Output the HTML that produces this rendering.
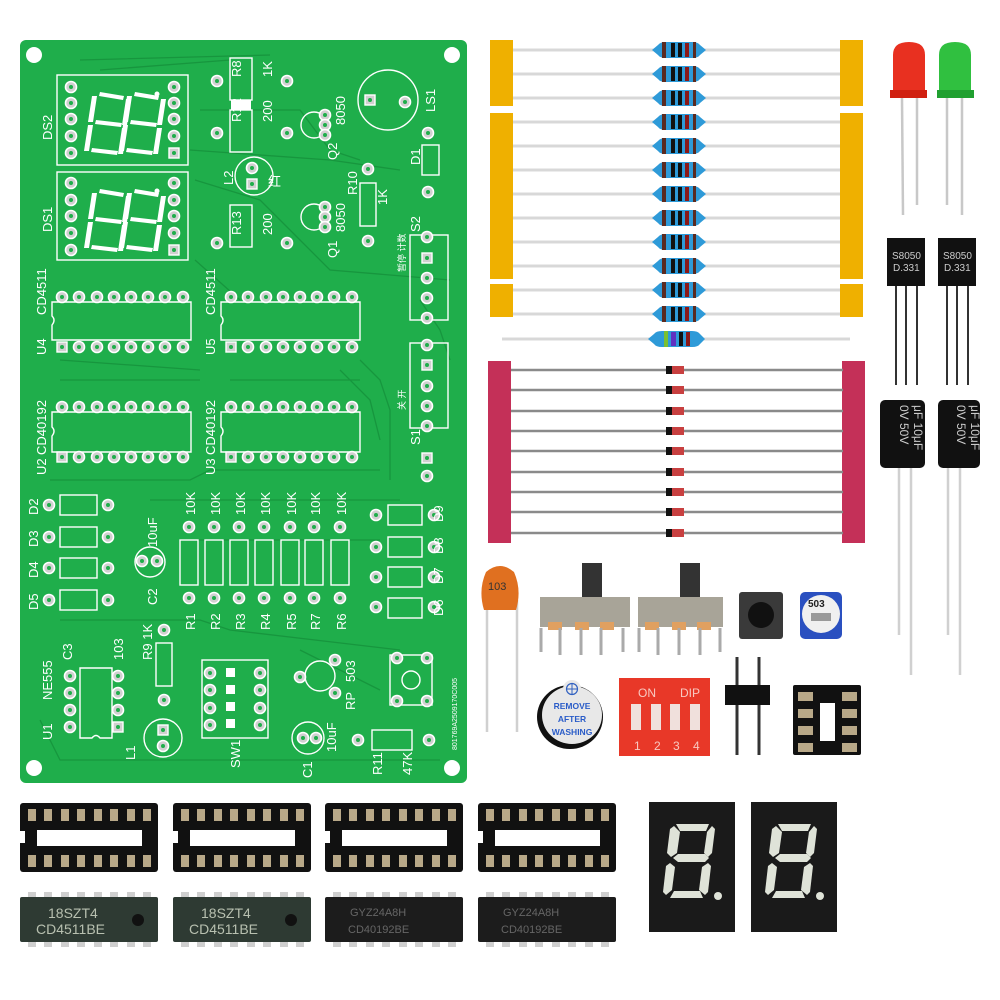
<!DOCTYPE html>
<html><head><meta charset="utf-8"><style>
html,body{margin:0;padding:0;background:#fff;}
svg{display:block}
text{font-family:"Liberation Sans","Noto Sans CJK SC",sans-serif;}
</style></head><body>
<svg width="1000" height="1000" viewBox="0 0 1000 1000" xmlns="http://www.w3.org/2000/svg">
<defs>
<g id="p"><circle r="5.5" fill="#d0d0d0" stroke="#ffffff" stroke-width="1.6"/><circle r="2" fill="#1fae4b"/></g>
<g id="sp"><rect x="-5" y="-5" width="10" height="10" fill="#d0d0d0" stroke="#fff" stroke-width="1.4"/><circle r="2" fill="#1fae4b"/></g>
<g id="res"><line x1="-140" y1="0" x2="188" y2="0" stroke="#d8d8d8" stroke-width="3"/>
<path d="M0,0 L6,-5 Q8,-8 14,-8 L40,-8 Q46,-8 48,-5 L54,0 L48,5 Q46,8 40,8 L14,8 Q8,8 6,5 Z" fill="#2e9ad8"/>
<rect x="10" y="-8" width="4" height="16" fill="#5a2a20"/><rect x="19" y="-7" width="4" height="14" fill="#111"/><rect x="26" y="-7" width="4" height="14" fill="#111"/><rect x="33" y="-7" width="4" height="14" fill="#8a1818"/><rect x="41" y="-8" width="3" height="16" fill="#5a2a20"/></g>
<g id="dio"><line x1="-164" y1="0" x2="168" y2="0" stroke="#8a8a8a" stroke-width="2.5"/><rect x="-9" y="-4" width="18" height="8" fill="#c84040"/><rect x="-9" y="-4" width="6" height="8" fill="#111"/></g>
<g id="sk"><rect x="0" y="0" width="138" height="69" rx="3" fill="#111"/><rect x="17" y="27" width="105" height="16" fill="#fff"/>
<g fill="#b8a888"><rect x="8" y="6" width="8" height="12"/><rect x="24" y="6" width="8" height="12"/><rect x="41" y="6" width="8" height="12"/><rect x="57" y="6" width="8" height="12"/><rect x="74" y="6" width="8" height="12"/><rect x="90" y="6" width="8" height="12"/><rect x="107" y="6" width="8" height="12"/><rect x="123" y="6" width="8" height="12"/>
<rect x="8" y="52" width="8" height="12"/><rect x="24" y="52" width="8" height="12"/><rect x="41" y="52" width="8" height="12"/><rect x="57" y="52" width="8" height="12"/><rect x="74" y="52" width="8" height="12"/><rect x="90" y="52" width="8" height="12"/><rect x="107" y="52" width="8" height="12"/><rect x="123" y="52" width="8" height="12"/></g>
<rect x="0" y="28" width="5" height="12" fill="#fff"/></g>
<g id="legs" fill="#cfcfcf"><rect x="8" y="-5" width="8" height="5"/><rect x="24" y="-5" width="8" height="5"/><rect x="41" y="-5" width="8" height="5"/><rect x="57" y="-5" width="8" height="5"/><rect x="74" y="-5" width="8" height="5"/><rect x="90" y="-5" width="8" height="5"/><rect x="107" y="-5" width="8" height="5"/><rect x="123" y="-5" width="8" height="5"/>
<rect x="8" y="45" width="8" height="5"/><rect x="24" y="45" width="8" height="5"/><rect x="41" y="45" width="8" height="5"/><rect x="57" y="45" width="8" height="5"/><rect x="74" y="45" width="8" height="5"/><rect x="90" y="45" width="8" height="5"/><rect x="107" y="45" width="8" height="5"/><rect x="123" y="45" width="8" height="5"/></g>
<g id="seg" fill="#dfe3d8"><path d="M14,14 L47,14 L44,21 L18,21 Z"/><path d="M12,16 L18,22 L15,43 L9,47 L5,43 L8,19 Z"/><path d="M50,16 L53,19 L50,43 L46,47 L42,43 L45,22 Z"/><path d="M11,48 L16,44 L43,44 L47,48 L43,52 L16,52 Z"/><path d="M8,53 L13,57 L10,80 L4,85 L1,82 L4,56 Z"/><path d="M46,53 L49,56 L46,82 L43,85 L37,80 L40,57 Z"/><path d="M12,81 L38,81 L41,88 L8,88 Z"/><circle cx="56" cy="86" r="4"/></g>
</defs>

<!-- PCB -->
<rect x="20" y="40" width="447" height="743" rx="6" fill="#1fae4b"/>
<g fill="#fff"><circle cx="34" cy="55" r="8"/><circle cx="452" cy="55" r="8"/><circle cx="34" cy="768" r="8"/><circle cx="452" cy="768" r="8"/></g>
<g fill="none" stroke="#17963e" stroke-width="1.3">
<path d="M80,60 L270,55 M100,70 L230,60 M200,110 L300,110 L330,150 L360,160 M190,150 L330,160 L400,170 M195,180 L260,200 L300,240 L330,270 L450,280 M195,260 L240,300 M360,360 L380,380 L390,410 L390,480 M340,370 L370,400 L380,440 M50,480 L190,480 L210,470 L380,470 M60,620 L200,620 L230,630 L400,650 M40,720 L60,760 L440,760 M180,540 L380,540 M150,500 L400,500 M300,650 L380,690 M420,300 L440,330 L450,360 M60,380 L200,380 M230,380 L360,380 M60,360 L200,370"/>
</g>
<g fill="none" stroke="#fff" stroke-width="1.4">
<rect x="57" y="75" width="131" height="90"/><rect x="57" y="172" width="131" height="88"/>
<rect x="230" y="58" width="22" height="42"/><rect x="230" y="110" width="22" height="42"/><rect x="230" y="205" width="22" height="42"/>
<rect x="360" y="183" width="16" height="43"/><rect x="422" y="145" width="17" height="30"/>
<circle cx="388" cy="100" r="30"/><circle cx="254" cy="176" r="19"/><circle cx="314" cy="125" r="13"/><circle cx="314" cy="217" r="13"/>
<rect x="410" y="235" width="38" height="85"/><rect x="410" y="343" width="38" height="85"/>
<path d="M52,302 L52,316 Q56,320 52,325 L52,340 L191,340 L191,302 Z"/>
<path d="M221,302 L221,316 Q225,320 221,325 L221,340 L360,340 L360,302 Z"/>
<path d="M52,412 L52,427 Q56,431 52,436 L52,452 L191,452 L191,412 Z"/>
<path d="M221,412 L221,427 Q225,431 221,436 L221,452 L360,452 L360,412 Z"/>
<rect x="60" y="495" width="37" height="20"/><rect x="60" y="527" width="37" height="20"/><rect x="60" y="558" width="37" height="20"/><rect x="60" y="590" width="37" height="20"/>
<rect x="180" y="540" width="18" height="45"/><rect x="205" y="540" width="18" height="45"/><rect x="230" y="540" width="18" height="45"/><rect x="255" y="540" width="18" height="45"/><rect x="281" y="540" width="18" height="45"/><rect x="305" y="540" width="18" height="45"/><rect x="331" y="540" width="18" height="45"/>
<rect x="388" y="505" width="34" height="20"/><rect x="388" y="537" width="34" height="20"/><rect x="388" y="567" width="34" height="20"/><rect x="388" y="598" width="34" height="20"/>
<circle cx="150" cy="562" r="15"/><path d="M80,668 L80,738 L92,738 Q96,733 100,738 L112,738 L112,668 Z"/>
<rect x="156" y="643" width="16" height="43"/><rect x="202" y="660" width="66" height="78"/>
<circle cx="320" cy="676" r="15"/><rect x="390" y="655" width="42" height="50"/><circle cx="411" cy="680" r="9"/>
<circle cx="163" cy="738" r="19"/><circle cx="308" cy="738" r="16"/><rect x="372" y="730" width="40" height="20"/>
</g>
<!-- seven seg footprints -->
<g fill="#fff">
<g id="fd"><path d="M92,96 L97,96 L93,122 L88,122 Z"/><path d="M88,125 L93,125 L89,151 L84,151 Z"/><path d="M100,92 L124,96 L123,100 L99,96 Z"/><path d="M96,120 L122,123 L121,127 L95,124 Z"/><path d="M92,148 L118,151 L117,155 L91,152 Z"/><path d="M126,99 L131,99 L127,125 L122,125 Z"/><path d="M122,128 L127,128 L123,154 L118,154 Z"/>
<path d="M112,99 L117,99 L113,125 L108,125 Z" opacity="0"/></g>
<use href="#fd" x="35" y="0"/>
<use href="#fd" x="0" y="97"/><use href="#fd" x="35" y="97"/>
<circle cx="157" cy="94" r="2.5"/><circle cx="157" cy="191" r="2.5"/>
<rect x="231" y="100" width="20" height="10"/></g>
<!-- pads -->
<g>
<use href="#p" x="71" y="87"/><use href="#p" x="71" y="103"/><use href="#p" x="71" y="119"/><use href="#p" x="71" y="136"/><use href="#p" x="71" y="153"/>
<use href="#p" x="174" y="87"/><use href="#p" x="174" y="103"/><use href="#p" x="174" y="119"/><use href="#p" x="174" y="136"/><use href="#sp" x="174" y="153"/>
<use href="#p" x="71" y="183"/><use href="#p" x="71" y="200"/><use href="#p" x="71" y="216"/><use href="#p" x="71" y="233"/><use href="#p" x="71" y="250"/>
<use href="#p" x="174" y="183"/><use href="#p" x="174" y="200"/><use href="#p" x="174" y="216"/><use href="#p" x="174" y="233"/><use href="#sp" x="174" y="250"/>
<use href="#p" x="217" y="81"/><use href="#p" x="287" y="81"/><use href="#p" x="217" y="133"/><use href="#p" x="287" y="133"/><use href="#p" x="217" y="243"/><use href="#p" x="287" y="243"/>
<use href="#p" x="368" y="169"/><use href="#p" x="368" y="241"/><use href="#p" x="428" y="133"/><use href="#p" x="428" y="192"/>
<use href="#sp" x="370" y="100"/><use href="#p" x="405" y="102"/><use href="#p" x="252" y="168"/><use href="#sp" x="252" y="184"/>
<use href="#p" x="325" y="115"/><use href="#p" x="325" y="125"/><use href="#p" x="325" y="135"/><use href="#p" x="325" y="207"/><use href="#p" x="325" y="217"/><use href="#p" x="325" y="227"/>
<use href="#p" x="427" y="237"/><use href="#sp" x="427" y="258"/><use href="#p" x="427" y="278"/><use href="#p" x="427" y="298"/><use href="#p" x="427" y="318"/>
<use href="#p" x="427" y="345"/><use href="#sp" x="427" y="365"/><use href="#p" x="427" y="386"/><use href="#p" x="427" y="406"/><use href="#p" x="427" y="426"/>
<use href="#sp" x="427" y="458"/><use href="#p" x="427" y="476"/>
</g>
<g id="row1"><use href="#p" x="62" y="297"/><use href="#p" x="79" y="297"/><use href="#p" x="97" y="297"/><use href="#p" x="114" y="297"/><use href="#p" x="131" y="297"/><use href="#p" x="148" y="297"/><use href="#p" x="165" y="297"/><use href="#p" x="183" y="297"/>
<use href="#sp" x="62" y="347"/><use href="#p" x="79" y="347"/><use href="#p" x="97" y="347"/><use href="#p" x="114" y="347"/><use href="#p" x="131" y="347"/><use href="#p" x="148" y="347"/><use href="#p" x="165" y="347"/><use href="#p" x="183" y="347"/></g>
<use href="#row1" x="169" y="0"/><use href="#row1" x="0" y="110"/><use href="#row1" x="169" y="110"/>
<g>
<use href="#p" x="49" y="505"/><use href="#p" x="108" y="505"/><use href="#p" x="49" y="537"/><use href="#p" x="108" y="537"/><use href="#p" x="49" y="568"/><use href="#p" x="108" y="568"/><use href="#p" x="49" y="600"/><use href="#p" x="108" y="600"/>
<use href="#p" x="189" y="527"/><use href="#p" x="214" y="527"/><use href="#p" x="239" y="527"/><use href="#p" x="264" y="527"/><use href="#p" x="290" y="527"/><use href="#p" x="314" y="527"/><use href="#p" x="340" y="527"/>
<use href="#p" x="189" y="598"/><use href="#p" x="214" y="598"/><use href="#p" x="239" y="598"/><use href="#p" x="264" y="598"/><use href="#p" x="290" y="598"/><use href="#p" x="314" y="598"/><use href="#p" x="340" y="598"/>
<use href="#p" x="376" y="515"/><use href="#p" x="434" y="515"/><use href="#p" x="376" y="547"/><use href="#p" x="434" y="547"/><use href="#p" x="376" y="577"/><use href="#p" x="434" y="577"/><use href="#p" x="376" y="607"/><use href="#p" x="434" y="607"/>
<use href="#p" x="142" y="561"/><use href="#p" x="157" y="561"/>
<use href="#p" x="70" y="676"/><use href="#p" x="70" y="693"/><use href="#p" x="70" y="710"/><use href="#p" x="70" y="727"/><use href="#p" x="118" y="676"/><use href="#p" x="118" y="693"/><use href="#p" x="118" y="710"/><use href="#sp" x="118" y="727"/>
<use href="#p" x="164" y="630"/><use href="#p" x="164" y="700"/>
<use href="#p" x="210" y="673"/><use href="#p" x="210" y="690"/><use href="#p" x="210" y="708"/><use href="#p" x="210" y="725"/><use href="#p" x="260" y="673"/><use href="#p" x="260" y="690"/><use href="#p" x="260" y="708"/><use href="#p" x="260" y="725"/>
<use href="#p" x="300" y="677"/><use href="#p" x="335" y="660"/><use href="#p" x="335" y="693"/>
<use href="#p" x="397" y="658"/><use href="#p" x="427" y="658"/><use href="#p" x="397" y="701"/><use href="#p" x="427" y="701"/>
<use href="#sp" x="163" y="730"/><use href="#p" x="163" y="746"/><use href="#p" x="303" y="738"/><use href="#p" x="316" y="738"/>
<use href="#p" x="358" y="740"/><use href="#p" x="429" y="740"/>
</g>
<g fill="#fff" font-size="13">
<text x="0" y="0" transform="translate(52,140) rotate(-90)">DS2</text>
<text x="0" y="0" transform="translate(52,232) rotate(-90)">DS1</text>
<text x="0" y="0" transform="translate(241,77) rotate(-90)">R8</text>
<text x="0" y="0" transform="translate(272,77) rotate(-90)">1K</text>
<text x="0" y="0" transform="translate(241,122) rotate(-90)">R12</text>
<text x="0" y="0" transform="translate(272,122) rotate(-90)">200</text>
<text x="0" y="0" transform="translate(241,235) rotate(-90)">R13</text>
<text x="0" y="0" transform="translate(272,235) rotate(-90)">200</text>
<text x="0" y="0" transform="translate(233,185) rotate(-90)">L2</text>
<text x="268" y="186">红</text>
<text x="0" y="0" transform="translate(337,160) rotate(-90)">Q2</text>
<text x="0" y="0" transform="translate(345,125) rotate(-90)">8050</text>
<text x="0" y="0" transform="translate(337,258) rotate(-90)">Q1</text>
<text x="0" y="0" transform="translate(345,232) rotate(-90)">8050</text>
<text x="0" y="0" transform="translate(357,195) rotate(-90)">R10</text>
<text x="0" y="0" transform="translate(387,205) rotate(-90)">1K</text>
<text x="0" y="0" transform="translate(435,112) rotate(-90)">LS1</text>
<text x="0" y="0" transform="translate(420,165) rotate(-90)">D1</text>
<text x="0" y="0" transform="translate(420,232) rotate(-90)">S2</text>
<text x="0" y="0" transform="translate(420,445) rotate(-90)">S1</text>
<text x="0" y="0" transform="translate(46,315) rotate(-90)">CD4511</text>
<text x="0" y="0" transform="translate(46,355) rotate(-90)">U4</text>
<text x="0" y="0" transform="translate(215,315) rotate(-90)">CD4511</text>
<text x="0" y="0" transform="translate(215,355) rotate(-90)">U5</text>
<text x="0" y="0" transform="translate(46,455) rotate(-90)">CD40192</text>
<text x="0" y="0" transform="translate(46,475) rotate(-90)">U2</text>
<text x="0" y="0" transform="translate(215,455) rotate(-90)">CD40192</text>
<text x="0" y="0" transform="translate(215,475) rotate(-90)">U3</text>
<text x="0" y="0" transform="translate(38,515) rotate(-90)">D2</text>
<text x="0" y="0" transform="translate(38,547) rotate(-90)">D3</text>
<text x="0" y="0" transform="translate(38,578) rotate(-90)">D4</text>
<text x="0" y="0" transform="translate(38,610) rotate(-90)">D5</text>
<text x="0" y="0" transform="translate(443,522) rotate(-90)">D9</text>
<text x="0" y="0" transform="translate(443,554) rotate(-90)">D8</text>
<text x="0" y="0" transform="translate(443,584) rotate(-90)">D7</text>
<text x="0" y="0" transform="translate(443,616) rotate(-90)">D6</text>
<text x="0" y="0" transform="translate(157,547) rotate(-90)">10uF</text>
<text x="0" y="0" transform="translate(157,605) rotate(-90)">C2</text>
<text x="0" y="0" transform="translate(195,515) rotate(-90)">10K</text><text x="0" y="0" transform="translate(220,515) rotate(-90)">10K</text><text x="0" y="0" transform="translate(245,515) rotate(-90)">10K</text><text x="0" y="0" transform="translate(270,515) rotate(-90)">10K</text><text x="0" y="0" transform="translate(296,515) rotate(-90)">10K</text><text x="0" y="0" transform="translate(320,515) rotate(-90)">10K</text><text x="0" y="0" transform="translate(346,515) rotate(-90)">10K</text>
<text x="0" y="0" transform="translate(195,630) rotate(-90)">R1</text><text x="0" y="0" transform="translate(220,630) rotate(-90)">R2</text><text x="0" y="0" transform="translate(245,630) rotate(-90)">R3</text><text x="0" y="0" transform="translate(270,630) rotate(-90)">R4</text><text x="0" y="0" transform="translate(296,630) rotate(-90)">R5</text><text x="0" y="0" transform="translate(320,630) rotate(-90)">R7</text><text x="0" y="0" transform="translate(346,630) rotate(-90)">R6</text>
<text x="0" y="0" transform="translate(72,660) rotate(-90)">C3</text>
<text x="0" y="0" transform="translate(123,660) rotate(-90)">103</text>
<text x="0" y="0" transform="translate(52,700) rotate(-90)">NE555</text>
<text x="0" y="0" transform="translate(52,740) rotate(-90)">U1</text>
<text x="0" y="0" transform="translate(152,660) rotate(-90)">R9 1K</text>
<text x="0" y="0" transform="translate(135,760) rotate(-90)">L1</text>
<text x="0" y="0" transform="translate(240,768) rotate(-90)">SW1</text>
<text x="0" y="0" transform="translate(312,778) rotate(-90)">C1</text>
<text x="0" y="0" transform="translate(336,752) rotate(-90)">10uF</text>
<text x="0" y="0" transform="translate(355,682) rotate(-90)">503</text>
<text x="0" y="0" transform="translate(355,710) rotate(-90)">RP</text>
<text x="0" y="0" transform="translate(382,775) rotate(-90)">R11</text>
<text x="0" y="0" transform="translate(412,775) rotate(-90)">47K</text>
<text x="0" y="0" transform="translate(405,272) rotate(-90)" font-size="9">暂停 计数</text>
<text x="0" y="0" transform="translate(405,410) rotate(-90)" font-size="9">关   开</text>
<text x="0" y="0" transform="translate(457,750) rotate(-90)" font-size="7">801769A2509170C005</text>
</g>
<g fill="#fff"><rect x="226" y="668" width="9" height="9"/><rect x="226" y="685" width="9" height="9"/><rect x="226" y="702" width="9" height="9"/><rect x="226" y="719" width="9" height="9"/></g>

<!-- resistor tapes -->
<use href="#res" x="652" y="50"/><use href="#res" x="652" y="74"/><use href="#res" x="652" y="98"/><use href="#res" x="652" y="122"/><use href="#res" x="652" y="146"/><use href="#res" x="652" y="170"/><use href="#res" x="652" y="194"/><use href="#res" x="652" y="218"/><use href="#res" x="652" y="242"/><use href="#res" x="652" y="266"/><use href="#res" x="652" y="290"/><use href="#res" x="652" y="314"/>
<g fill="#efb000"><rect x="490" y="40" width="23" height="66"/><rect x="490" y="113" width="23" height="166"/><rect x="490" y="284" width="23" height="33"/>
<rect x="840" y="40" width="23" height="66"/><rect x="840" y="113" width="23" height="166"/><rect x="840" y="284" width="23" height="33"/></g>
<line x1="502" y1="339" x2="850" y2="339" stroke="#d8d8d8" stroke-width="3"/>
<path d="M648,339 L654,334 Q656,331 662,331 L692,331 Q698,331 700,334 L705,339 L700,344 Q698,347 692,347 L662,347 Q656,347 654,344 Z" fill="#2e9ad8"/>
<rect x="664" y="331" width="4" height="16" fill="#7ac030"/><rect x="671" y="332" width="5" height="14" fill="#6030c0"/><rect x="679" y="332" width="4" height="14" fill="#111"/><rect x="686" y="332" width="4" height="14" fill="#8a1818"/>
<g fill="#c43058"><rect x="488" y="361" width="23" height="182"/><rect x="842" y="361" width="23" height="182"/></g>
<use href="#dio" x="675" y="370"/><use href="#dio" x="675" y="390"/><use href="#dio" x="675" y="411"/><use href="#dio" x="675" y="431"/><use href="#dio" x="675" y="451"/><use href="#dio" x="675" y="472"/><use href="#dio" x="675" y="492"/><use href="#dio" x="675" y="512"/><use href="#dio" x="675" y="533"/>

<!-- LEDs -->
<g stroke="#c8c8c8" stroke-width="2.5"><line x1="902" y1="98" x2="903" y2="215"/><line x1="917" y1="98" x2="917" y2="205"/><line x1="947" y1="98" x2="947" y2="205"/><line x1="962" y1="98" x2="962" y2="215"/></g>
<path d="M893,98 L893,55 Q893,42 909,42 Q925,42 925,55 L925,98 Z" fill="#e83020"/><rect x="890" y="90" width="37" height="8" fill="#d02010"/>
<path d="M939,98 L939,55 Q939,42 955,42 Q971,42 971,55 L971,98 Z" fill="#30c040"/><rect x="937" y="90" width="37" height="8" fill="#20a030"/>
<!-- transistors -->
<g stroke="#333" stroke-width="2"><line x1="896" y1="285" x2="896" y2="385"/><line x1="906" y1="285" x2="906" y2="385"/><line x1="917" y1="285" x2="917" y2="385"/><line x1="947" y1="285" x2="947" y2="385"/><line x1="957" y1="285" x2="957" y2="385"/><line x1="968" y1="285" x2="968" y2="385"/></g>
<rect x="887" y="238" width="38" height="48" fill="#111"/><rect x="938" y="238" width="38" height="48" fill="#111"/>
<g fill="#ccc" font-size="10"><text x="892" y="259">S8050</text><text x="893" y="271">D.331</text><text x="943" y="259">S8050</text><text x="944" y="271">D.331</text></g>
<!-- caps -->
<g stroke="#d0d0d0" stroke-width="2.5"><line x1="899" y1="460" x2="899" y2="635"/><line x1="911" y1="460" x2="911" y2="675"/><line x1="948" y1="460" x2="948" y2="635"/><line x1="960" y1="460" x2="960" y2="675"/></g>
<rect x="880" y="400" width="45" height="68" rx="5" fill="#111"/><rect x="938" y="400" width="42" height="68" rx="5" fill="#111"/>
<g fill="#ccc" font-size="12"><text transform="translate(900,405) rotate(90)">0V 50V</text><text transform="translate(914,405) rotate(90)">μF 10μF</text><text transform="translate(957,405) rotate(90)">0V 50V</text><text transform="translate(971,405) rotate(90)">μF 10μF</text></g>

<!-- ceramic cap -->
<g stroke="#d0d0d0" stroke-width="2.5"><line x1="487" y1="600" x2="487" y2="732"/><line x1="517" y1="600" x2="517" y2="732"/></g>
<path d="M484,610 Q478,590 486,572 Q500,560 514,572 Q522,590 516,610 Z" fill="#e07020"/>
<text x="488" y="590" font-size="11" fill="#333">103</text>
<!-- slide switches -->
<g><rect x="582" y="563" width="20" height="38" fill="#333"/><rect x="540" y="597" width="90" height="30" fill="#a8a498"/><g fill="#e0a060"><rect x="548" y="622" width="14" height="8"/><rect x="575" y="622" width="14" height="8"/><rect x="600" y="622" width="14" height="8"/></g>
<g stroke="#aaa" stroke-width="3"><line x1="541" y1="628" x2="541" y2="652"/><line x1="560" y1="628" x2="560" y2="655"/><line x1="581" y1="628" x2="581" y2="655"/><line x1="601" y1="628" x2="601" y2="655"/><line x1="623" y1="628" x2="623" y2="652"/></g></g>
<g><rect x="680" y="563" width="20" height="38" fill="#333"/><rect x="638" y="597" width="85" height="30" fill="#a8a498"/><g fill="#e0a060"><rect x="645" y="622" width="14" height="8"/><rect x="672" y="622" width="14" height="8"/><rect x="697" y="622" width="14" height="8"/></g>
<g stroke="#aaa" stroke-width="3"><line x1="639" y1="628" x2="639" y2="652"/><line x1="658" y1="628" x2="658" y2="655"/><line x1="679" y1="628" x2="679" y2="655"/><line x1="700" y1="628" x2="700" y2="655"/><line x1="720" y1="628" x2="720" y2="652"/></g></g>
<!-- tact switch -->
<rect x="739" y="592" width="44" height="47" rx="3" fill="#3a3a3a"/><circle cx="761" cy="615" r="13" fill="#111"/>
<!-- pot -->
<rect x="800" y="592" width="42" height="47" rx="5" fill="#2a50c0"/><circle cx="821" cy="614" r="19" fill="#f0f0f0"/><rect x="811" y="613" width="20" height="8" fill="#999"/><text x="808" y="607" font-size="10" font-weight="bold" fill="#222">503</text>
<!-- buzzer -->
<ellipse cx="570" cy="717" rx="33" ry="32" fill="#111"/><ellipse cx="572" cy="715" rx="30" ry="29" fill="#e8e8e8"/><circle cx="572" cy="689" r="9" fill="#e8e8e8"/><circle cx="572" cy="689" r="5.5" fill="none" stroke="#3060c0" stroke-width="1.2"/><line x1="572" y1="684" x2="572" y2="694" stroke="#3060c0"/><line x1="567" y1="689" x2="577" y2="689" stroke="#3060c0"/>
<g fill="#2a5cc8" font-size="8.5" font-weight="bold" text-anchor="middle"><text x="572" y="709">REMOVE</text><text x="572" y="722">AFTER</text><text x="572" y="735">WASHING</text></g>
<!-- DIP switch -->
<rect x="619" y="678" width="91" height="78" fill="#e83828"/>
<g fill="#f8c8c0" font-size="12"><text x="638" y="697">ON</text><text x="680" y="697">DIP</text><text x="634" y="750">1</text><text x="654" y="750">2</text><text x="673" y="750">3</text><text x="693" y="750">4</text></g>
<g fill="#f0e0dc"><rect x="631" y="704" width="10" height="26"/><rect x="651" y="704" width="10" height="26"/><rect x="670" y="704" width="10" height="26"/><rect x="690" y="704" width="10" height="26"/></g>
<!-- header -->
<g stroke="#333" stroke-width="3"><line x1="737" y1="657" x2="737" y2="755"/><line x1="759" y1="657" x2="759" y2="755"/></g><rect x="725" y="685" width="45" height="20" fill="#111"/>
<!-- 8 pin socket -->
<rect x="793" y="685" width="68" height="70" rx="2" fill="#111"/><rect x="820" y="703" width="15" height="38" fill="#fff"/>
<g fill="#b8a888"><rect x="798" y="692" width="15" height="9"/><rect x="798" y="709" width="15" height="9"/><rect x="798" y="726" width="15" height="9"/><rect x="798" y="743" width="15" height="9"/><rect x="842" y="692" width="15" height="9"/><rect x="842" y="709" width="15" height="9"/><rect x="842" y="726" width="15" height="9"/><rect x="842" y="743" width="15" height="9"/></g>

<!-- IC sockets -->
<use href="#sk" x="20" y="803"/><use href="#sk" x="173" y="803"/><use href="#sk" x="325" y="803"/><use href="#sk" x="478" y="803"/>
<!-- ICs -->
<use href="#legs" x="20" y="897"/><use href="#legs" x="173" y="897"/><use href="#legs" x="325" y="897"/><use href="#legs" x="478" y="897"/>
<rect x="20" y="897" width="138" height="45" rx="2" fill="#2e3a33"/><rect x="173" y="897" width="138" height="45" rx="2" fill="#2e3a33"/>
<rect x="325" y="897" width="138" height="45" rx="2" fill="#1c1c1c"/><rect x="478" y="897" width="138" height="45" rx="2" fill="#1c1c1c"/>
<g fill="#111"><circle cx="138" cy="920" r="6"/><circle cx="291" cy="920" r="6"/></g>
<g fill="#b8c0b0" font-size="14"><text x="48" y="918">18SZT4</text><text x="36" y="934">CD4511BE</text><text x="201" y="918">18SZT4</text><text x="189" y="934">CD4511BE</text></g>
<g fill="#666" font-size="11"><text x="350" y="916">GYZ24A8H</text><text x="348" y="933">CD40192BE</text><text x="503" y="916">GYZ24A8H</text><text x="501" y="933">CD40192BE</text></g>
<!-- displays -->
<rect x="649" y="802" width="86" height="130" fill="#1a1a1a"/><rect x="751" y="802" width="86" height="130" fill="#1a1a1a"/>
<use href="#seg" x="662" y="810"/><use href="#seg" x="764" y="810"/>
</svg>
</body></html>
